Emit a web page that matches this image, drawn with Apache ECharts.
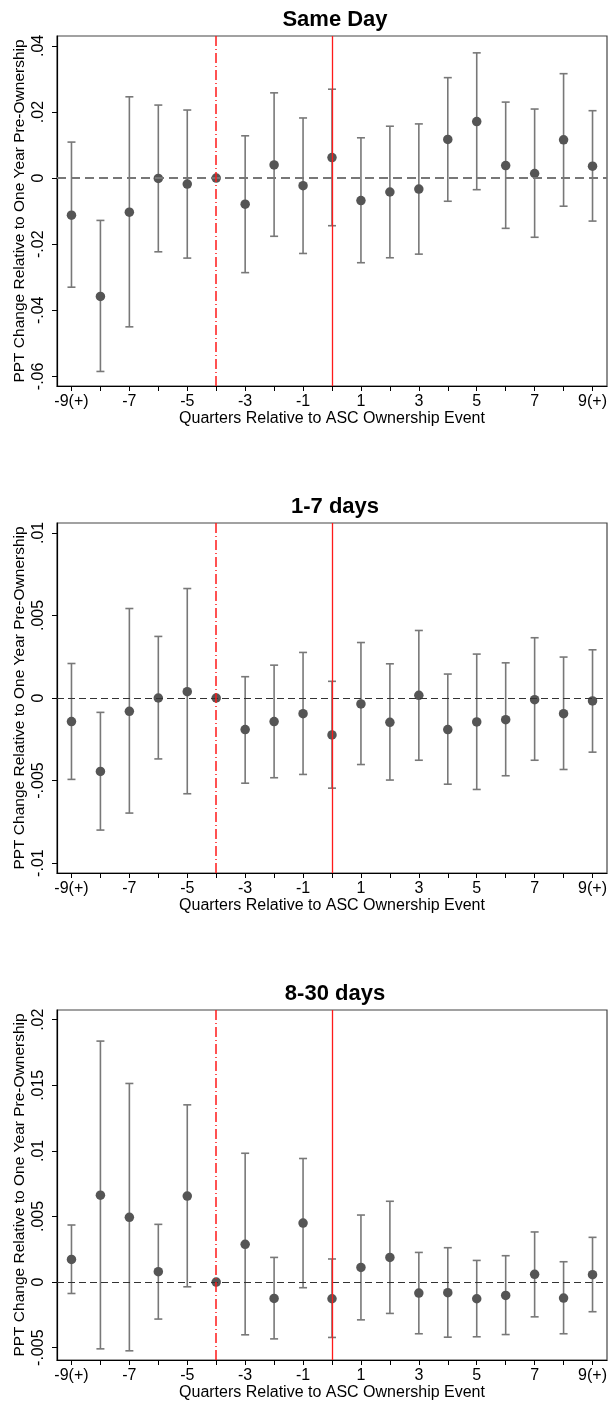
<!DOCTYPE html>
<html>
<head>
<meta charset="utf-8">
<script src="https://cdn.jsdelivr.net/npm/echarts@6/dist/echarts.min.js"></script>
<style>
  html, body { margin: 0; padding: 0; background: #fff; }
  #chart { width: 608px; height: 1406px; }
</style>
</head>
<body>
<div id="chart"></div>
<script>
// Event-time quarters (endpoints bin everything beyond +/-9)
const quarters = [-9, -8, -7, -6, -5, -4, -3, -2, -1, 0, 1, 2, 3, 4, 5, 6, 7, 8, 9];
const xTickValues = [-9, -8, -7, -6, -5, -4, -3, -2, -1, 0, 1, 2, 3, 4, 5, 6, 7, 8, 9];
const xLabelValues = [-9, -7, -5, -3, -1, 1, 3, 5, 7, 9];
const xLabelTexts = ['-9(+)', '-7', '-5', '-3', '-1', '1', '3', '5', '7', '9(+)'];

const panelTitles = ['Same Day', '1-7 days', '8-30 days'];
const xAxisTitle = 'Quarters Relative to ASC Ownership Event';
const yAxisTitle = 'PPT Change Relative to One Year Pre-Ownership';

// Same-day
const sameDayCoef = [-0.0112, -0.0358, -0.0103, -0.0001, -0.0018, 0, -0.0079, 0.0040, -0.0023, 0.0062, -0.0068, -0.0042, -0.0033, 0.0117, 0.0171, 0.0038, 0.0014, 0.0116, 0.0036];
const sameDayLo   = [-0.0330, -0.0585, -0.0450, -0.0223, -0.0242, null, -0.0286, -0.0176, -0.0228, -0.0144, -0.0256, -0.0241, -0.0230, -0.0070, -0.0035, -0.0152, -0.0179, -0.0085, -0.0130];
const sameDayHi   = [0.0109, -0.0128, 0.0246, 0.0221, 0.0206, null, 0.0128, 0.0258, 0.0182, 0.0269, 0.0122, 0.0157, 0.0164, 0.0304, 0.0379, 0.0230, 0.0209, 0.0316, 0.0204];
const sameDayTicks = [-0.06, -0.04, -0.02, 0, 0.02, 0.04];
const sameDayTickLabels = ['-.06', '-.04', '-.02', '0', '.02', '.04'];

// 1-7 days
const week1Coef = [-0.00143, -0.00445, -0.00081, 0, 0.00038, 0, -0.00191, -0.00143, -0.00095, -0.00224, -0.00036, -0.00147, 0.00016, -0.00191, -0.00145, -0.00131, -0.00010, -0.00095, -0.00018];
const week1Lo   = [-0.00493, -0.00800, -0.00697, -0.00369, -0.00580, null, -0.00516, -0.00483, -0.00463, -0.00546, -0.00403, -0.00497, -0.00377, -0.00522, -0.00554, -0.00471, -0.00377, -0.00433, -0.00328];
const week1Hi   = [0.00209, -0.00087, 0.00542, 0.00373, 0.00663, null, 0.00129, 0.00199, 0.00276, 0.00101, 0.00336, 0.00207, 0.00409, 0.00145, 0.00266, 0.00213, 0.00365, 0.00248, 0.00292];
const week1Ticks = [-0.01, -0.005, 0, 0.005, 0.01];
const week1TickLabels = ['-.01', '-.005', '0', '.005', '.01'];

// 8-30 days
const monthCoef = [0.00173, 0.00662, 0.00494, 0.00079, 0.00656, 0, 0.00288, -0.00125, 0.00450, -0.00127, 0.00112, 0.00188, -0.00084, -0.00081, -0.00127, -0.00102, 0.00059, -0.00122, 0.00056];
const monthLo   = [-0.00087, -0.00509, -0.00524, -0.00282, -0.00036, null, -0.00402, -0.00433, -0.00043, -0.00422, -0.00288, -0.00239, -0.00394, -0.00420, -0.00417, -0.00400, -0.00265, -0.00394, -0.00226];
const monthHi   = [0.00435, 0.01837, 0.01514, 0.00440, 0.01351, null, 0.00982, 0.00188, 0.00942, 0.00176, 0.00511, 0.00616, 0.00226, 0.00262, 0.00165, 0.00201, 0.00382, 0.00155, 0.00341];
const monthTicks = [-0.005, 0, 0.005, 0.01, 0.015, 0.02];
const monthTickLabels = ['-.005', '0', '.005', '.01', '.015', '.02'];

const panels = [
  { coef: sameDayCoef, lo: sameDayLo, hi: sameDayHi, ticks: sameDayTicks, tickLabels: sameDayTickLabels, min: -0.0629, max: 0.0430, top: 36, zeroColor: '#777', zeroWidth: 1.8, zeroDash: [9, 5] },
  { coef: week1Coef, lo: week1Lo, hi: week1Hi, ticks: week1Ticks, tickLabels: week1TickLabels, min: -0.0106, max: 0.0106, top: 523, zeroColor: '#333', zeroWidth: 1.1, zeroDash: [7, 4] },
  { coef: monthCoef, lo: monthLo, hi: monthHi, ticks: monthTicks, tickLabels: monthTickLabels, min: -0.00594, max: 0.02074, top: 1010, zeroColor: '#333', zeroWidth: 1.1, zeroDash: [7, 4] }
];

const FONT = 'Liberation Sans, Arial, Helvetica, sans-serif';
const PLOT_H = 350;
const eventTime = 0;
const preWindow = -4;

function labelFor(values, texts) {
  return function (v) {
    for (let i = 0; i < values.length; i++) {
      if (Math.abs(values[i] - v) < 1e-9) return texts[i];
    }
    return '';
  };
}

function renderErrorBar(params, api) {
  const x = api.value(0);
  const p1 = api.coord([x, api.value(2)]);
  const p2 = api.coord([x, api.value(1)]);
  const cap = 4;
  const style = { stroke: '#787878', lineWidth: 1.6 };
  return {
    type: 'group',
    children: [
      { type: 'line', shape: { x1: p1[0], y1: p1[1], x2: p2[0], y2: p2[1] }, style: style },
      { type: 'line', shape: { x1: p1[0] - cap, y1: p1[1], x2: p1[0] + cap, y2: p1[1] }, style: style },
      { type: 'line', shape: { x1: p2[0] - cap, y1: p2[1], x2: p2[0] + cap, y2: p2[1] }, style: style }
    ]
  };
}

const option = {
  animation: false,
  backgroundColor: '#fff',
  title: [], grid: [], xAxis: [], yAxis: [], series: []
};

panels.forEach(function (p, k) {
  option.title.push({
    text: panelTitles[k],
    left: 330, top: p.top - 32, textAlign: 'center',
    textStyle: { fontFamily: FONT, fontWeight: 'bold', fontSize: 22, color: '#000' }
  });
  option.grid.push({
    left: 57, right: 1, top: p.top, height: PLOT_H,
    outerBoundsMode: 'none', containLabel: false,
    show: true, borderColor: '#444', borderWidth: 1.2, backgroundColor: '#fff'
  });
  option.xAxis.push({
    type: 'value', gridIndex: k, min: -9.5, max: 9.5,
    name: xAxisTitle, nameLocation: 'middle', nameGap: 25, nameMoveOverlap: false,
    nameTextStyle: { fontFamily: FONT, fontSize: 16, color: '#000' },
    axisLine: { show: true, onZero: false, lineStyle: { color: '#000', width: 1.2 } },
    axisTick: { show: true, inside: false, length: 5, customValues: xTickValues, lineStyle: { color: '#000', width: 1 } },
    axisLabel: { show: true, margin: 8, customValues: xLabelValues, formatter: labelFor(xLabelValues, xLabelTexts), fontFamily: FONT, fontSize: 16, color: '#000' },
    splitLine: { show: false }
  });
  option.yAxis.push({
    type: 'value', gridIndex: k, min: p.min, max: p.max,
    name: yAxisTitle, nameLocation: 'middle', nameGap: 29, nameRotate: 90, nameMoveOverlap: false,
    nameTextStyle: { fontFamily: FONT, fontSize: 15.5, color: '#000' },
    axisLine: { show: true, onZero: false, lineStyle: { color: '#000', width: 1.2 } },
    axisTick: { show: true, inside: false, length: 5, customValues: p.ticks, lineStyle: { color: '#000', width: 1 } },
    axisLabel: { show: true, rotate: 90, margin: 10, customValues: p.ticks, formatter: labelFor(p.ticks, p.tickLabels), fontFamily: FONT, fontSize: 16, color: '#000' },
    splitLine: { show: false }
  });

  const bars = [];
  quarters.forEach(function (q, i) {
    if (p.lo[i] !== null && p.hi[i] !== null) bars.push([q, p.lo[i], p.hi[i]]);
  });

  // reference lines: zero effect, start of pre-period window, ownership event
  option.series.push({
    type: 'custom', xAxisIndex: k, yAxisIndex: k, z: 2,
    renderItem: renderErrorBar,
    encode: { x: 0, y: [1, 2] },
    data: bars,
    silent: true,
    markLine: {
      silent: true, symbol: 'none', animation: false,
      label: { show: false },
      data: [
        { yAxis: 0, lineStyle: { color: p.zeroColor, width: p.zeroWidth, type: p.zeroDash } },
        { xAxis: preWindow, lineStyle: { color: '#ff1a1a', width: 1.5, type: [10, 3, 1, 3] } },
        { xAxis: eventTime, lineStyle: { color: '#ff1a1a', width: 1.3, type: 'solid' } }
      ]
    }
  });
  option.series.push({
    type: 'scatter', xAxisIndex: k, yAxisIndex: k, z: 3,
    symbol: 'circle', symbolSize: 9.5,
    itemStyle: { color: '#555', opacity: 1 },
    data: quarters.map(function (q, i) { return [q, p.coef[i]]; }),
    silent: true
  });
});

const chart = echarts.init(document.getElementById('chart'), null, { renderer: 'canvas' });
chart.setOption(option);
</script>
</body>
</html>
